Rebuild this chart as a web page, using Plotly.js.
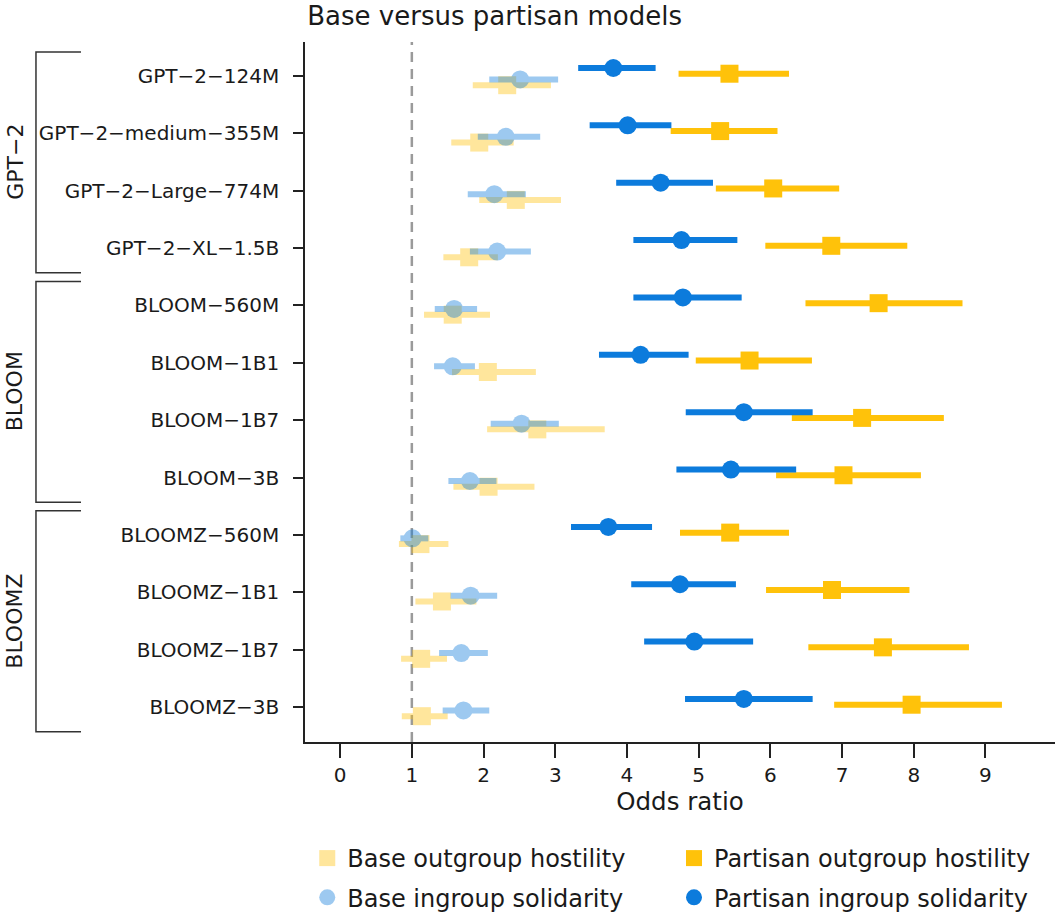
<!DOCTYPE html>
<html>
<head>
<meta charset="utf-8">
<script src="https://cdn.plot.ly/plotly-3.0.1.min.js"></script>
<style>html,body{margin:0;padding:0;background:#fff;}#chart{width:1055px;height:916px;}</style>
</head>
<body>
<div id="chart"></div>
<script>
// ---- data ----
const models = ["GPT−2−124M","GPT−2−medium−355M","GPT−2−Large−774M","GPT−2−XL−1.5B",
  "BLOOM−560M","BLOOM−1B1","BLOOM−1B7","BLOOM−3B",
  "BLOOMZ−560M","BLOOMZ−1B1","BLOOMZ−1B7","BLOOMZ−3B"];
const groups = ["GPT−2","BLOOM","BLOOMZ"];
const groupSizes = [4,4,4];

const partisanIn   = [3.81,4.01,4.47,4.76,4.78,4.19,5.63,5.45,3.74,4.74,4.94,5.63];
const partisanInLo = [3.32,3.48,3.85,4.09,4.09,3.61,4.82,4.69,3.22,4.06,4.24,4.81];
const partisanInHi = [4.40,4.62,5.20,5.54,5.60,4.86,6.59,6.36,4.35,5.52,5.76,6.59];

const partisanOut   = [5.43,5.30,6.04,6.85,7.51,5.71,7.28,7.02,5.44,6.86,7.57,7.97];
const partisanOutLo = [4.72,4.61,5.24,5.93,6.49,4.96,6.30,6.08,4.74,5.94,6.53,6.89];
const partisanOutHi = [6.26,6.10,6.96,7.91,8.68,6.58,8.42,8.10,6.26,7.94,8.77,9.23];

const baseIn   = [2.51,2.31,2.15,2.19,1.59,1.57,2.53,1.81,1.01,1.82,1.69,1.72];
const baseInLo = [2.08,1.92,1.78,1.81,1.32,1.31,2.10,1.51,0.84,1.54,1.38,1.43];
const baseInHi = [3.04,2.79,2.59,2.66,1.91,1.88,3.05,2.18,1.23,2.19,2.06,2.08];

const baseOut   = [2.33,1.94,2.45,1.80,1.57,2.06,2.75,2.07,1.12,1.42,1.13,1.14];
const baseOutLo = [1.85,1.55,1.94,1.44,1.17,1.56,2.05,1.58,0.82,1.05,0.85,0.86];
const baseOutHi = [2.94,2.42,3.08,2.20,2.09,2.73,3.69,2.71,1.51,1.90,1.49,1.50];

const xTicks = [0,1,2,3,4,5,6,7,8,9];

// ---- style ----
const BLUE = "#0C7BDC", YELLOW = "#FFC20A";
const FONT = "DejaVu Sans";
const TXT = "#1a1a1a";
const yRange = [11.61, -0.593];
const xRange = [-0.49, 9.97];

function mk(name, vals, lo, hi, off, color, symbol, opacity, legend, rank) {
  return {
    type: "scatter", mode: "markers", name: name,
    x: vals,
    y: vals.map((_, i) => i + off),
    error_x: {
      type: "data", symmetric: false,
      array: hi.map((h, i) => h - vals[i]),
      arrayminus: lo.map((l, i) => vals[i] - l),
      thickness: 6, width: 0, color: color
    },
    marker: {size: 18, color: color, symbol: symbol, line: {width: 0}},
    opacity: opacity,
    legend: legend, legendrank: rank, legendgroup: name,
    hoverinfo: "x+name"
  };
}

const traces = [
  mk("Base outgroup hostility", baseOut, baseOutLo, baseOutHi, 0.16, YELLOW, "square", 0.4, "legend", 1),
  mk("Base ingroup solidarity", baseIn, baseInLo, baseInHi, 0.06, BLUE, "circle", 0.4, "legend", 2),
  mk("Partisan outgroup hostility", partisanOut, partisanOutLo, partisanOutHi, -0.04, YELLOW, "square", 1, "legend2", 1),
  mk("Partisan ingroup solidarity", partisanIn, partisanInLo, partisanInHi, -0.14, BLUE, "circle", 1, "legend2", 2)
];

function yToPaper(v) { return (yRange[0] - v) / (yRange[0] - yRange[1]); }

const shapes = [{
  type: "line", xref: "x", yref: "paper", x0: 1, x1: 1, y0: 0, y1: 1,
  line: {color: "#9a9a9a", width: 2.5, dash: "10px,7px"}, layer: "below"
}];
const annotations = [];
const bx0 = -0.3587, bx1 = -0.2987;
let start = 0;
groups.forEach((g, k) => {
  const first = start, last = start + groupSizes[k] - 1;
  const yt = yToPaper(first - 0.42), yb = yToPaper(last + 0.43);
  shapes.push({
    type: "path", xref: "paper", yref: "paper",
    path: `M ${bx1},${yt} L ${bx0},${yt} L ${bx0},${yb} L ${bx1},${yb}`,
    line: {color: "#333", width: 1.5}
  });
  annotations.push({
    xref: "paper", yref: "y", x: -0.387, y: (first + last) / 2,
    text: g, showarrow: false, textangle: -90,
    font: {family: FONT, size: 22, color: TXT},
    xanchor: "center", yanchor: "middle"
  });
  start += groupSizes[k];
});

const layout = {
  width: 1055, height: 916,
  margin: {l: 305, r: 0, t: 42, b: 174},
  paper_bgcolor: "#fff", plot_bgcolor: "#fff",
  font: {family: FONT, color: TXT, size: 20},
  title: {
    text: "Base versus partisan models",
    font: {family: FONT, size: 26, color: TXT},
    xref: "paper", x: 0.003, xanchor: "left",
    yref: "container", y: 1 - 16 / 916, yanchor: "middle"
  },
  xaxis: {
    range: xRange, tickvals: xTicks, ticktext: xTicks.map(String),
    showgrid: false, zeroline: false,
    showline: true, linecolor: "#222", linewidth: 1.5,
    ticks: "outside", ticklen: 14, tickwidth: 1.5, tickcolor: "#222",
    tickfont: {family: FONT, size: 20, color: TXT},
    title: {text: "Odds ratio", font: {family: FONT, size: 24.5, color: TXT}, standoff: 7}
  },
  yaxis: {
    range: yRange,
    tickvals: models.map((_, i) => i), ticktext: models,
    showgrid: false, zeroline: false,
    showline: true, linecolor: "#222", linewidth: 1.5,
    ticks: "outside", ticklen: 10, tickwidth: 1.5, tickcolor: "#222",
    tickfont: {family: FONT, size: 20, color: TXT},
    ticklabelstandoff: 10
  },
  showlegend: true,
  legend: {
    orientation: "v", traceorder: "grouped", tracegroupgap: 5,
    x: 0.003, xanchor: "left", xref: "paper",
    yref: "container", y: 1 - 836 / 916, yanchor: "top",
    font: {family: FONT, size: 24, color: TXT},
    bgcolor: "rgba(0,0,0,0)", borderwidth: 0
  },
  legend2: {
    orientation: "v", traceorder: "grouped", tracegroupgap: 5,
    x: 0.492, xanchor: "left", xref: "paper",
    yref: "container", y: 1 - 836 / 916, yanchor: "top",
    font: {family: FONT, size: 24, color: TXT},
    bgcolor: "rgba(0,0,0,0)", borderwidth: 0
  },
  shapes: shapes,
  annotations: annotations
};

Plotly.newPlot("chart", traces, layout, {displayModeBar: false, responsive: false});
</script>
</body>
</html>
